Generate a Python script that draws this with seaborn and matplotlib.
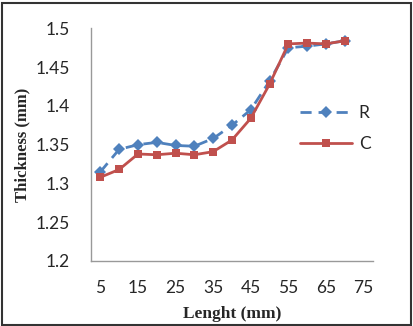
import pandas as pd
import numpy as np
import matplotlib
matplotlib.use('Agg')
import matplotlib.pyplot as plt
import seaborn as sns
from matplotlib.patches import Rectangle

# 資料
lengths = [5, 10, 15, 20, 25, 30, 35, 40, 45, 50, 55, 60, 65, 70]
r_vals = [1.315, 1.344, 1.350, 1.353, 1.349, 1.348, 1.358, 1.375, 1.395, 1.432, 1.475, 1.477, 1.480, 1.484]
c_vals = [1.308, 1.318, 1.338, 1.337, 1.339, 1.337, 1.341, 1.356, 1.384, 1.428, 1.480, 1.481, 1.480, 1.484]
x_labels = [5, 15, 25, 35, 45, 55, 65, 75]
y_ticks = [1.2, 1.25, 1.3, 1.35, 1.4, 1.45, 1.5]

df = pd.DataFrame({'Length': lengths * 2,
                   'Thickness': r_vals + c_vals,
                   'Series': ['R'] * len(lengths) + ['C'] * len(lengths)})

sns.set_style('white')
plt.rcParams['font.family'] = ['Lato', 'DejaVu Sans']

fig = plt.figure(figsize=(4.13, 3.26), dpi=100)
ax = fig.add_axes([0.2203, 0.1994, 0.903 - 0.2203, 0.913 - 0.1994])

blue = '#4F81BD'
red = '#C0504D'
sns.lineplot(data=df, x='Length', y='Thickness', hue='Series', style='Series',
             palette={'R': blue, 'C': red},
             dashes={'R': (4, 2.5), 'C': ''},
             markers={'R': 'D', 'C': 's'},
             markersize=6, markeredgewidth=0, linewidth=2, ax=ax)

ax.set_xlim(2.5, 77.5)
ax.set_ylim(1.2, 1.5)
ax.set_yticks(y_ticks)
ax.set_yticklabels([f'{v:g}' for v in y_ticks], fontsize=12.5)
ax.set_xticks(x_labels)
ax.set_xticklabels([str(v) for v in x_labels], fontsize=12.5)
ax.set_xticks(np.arange(2.5, 78, 5), minor=True)
ax.tick_params(axis='x', which='major', length=0, pad=14)
ax.tick_params(axis='x', which='minor', length=6, color='#999999', width=1, direction='out')
ax.tick_params(axis='y', which='major', length=6, color='#999999', width=1, direction='out', pad=9)

for s in ['top', 'right']:
    ax.spines[s].set_visible(False)
for s in ['left', 'bottom']:
    ax.spines[s].set_color('#999999')
    ax.spines[s].set_linewidth(1)

ax.set_xlabel('Lenght (mm)', fontfamily='Liberation Serif', fontweight='bold', fontsize=12.5, labelpad=7)
ax.set_ylabel('Thickness (mm)', fontfamily='Liberation Serif', fontweight='bold', fontsize=12, labelpad=4)

leg = ax.legend(loc='center left', bbox_to_anchor=(0.685, 0.57), frameon=False,
                fontsize=12.5, handlelength=3.0, labelspacing=0.9, handletextpad=0.4)

fig.patches.append(Rectangle((0.005, 0.004), 0.99, 0.988, transform=fig.transFigure,
                             fill=False, edgecolor='#333333', linewidth=1.5))

plt.savefig('out.png', dpi=100)
plt.close()
